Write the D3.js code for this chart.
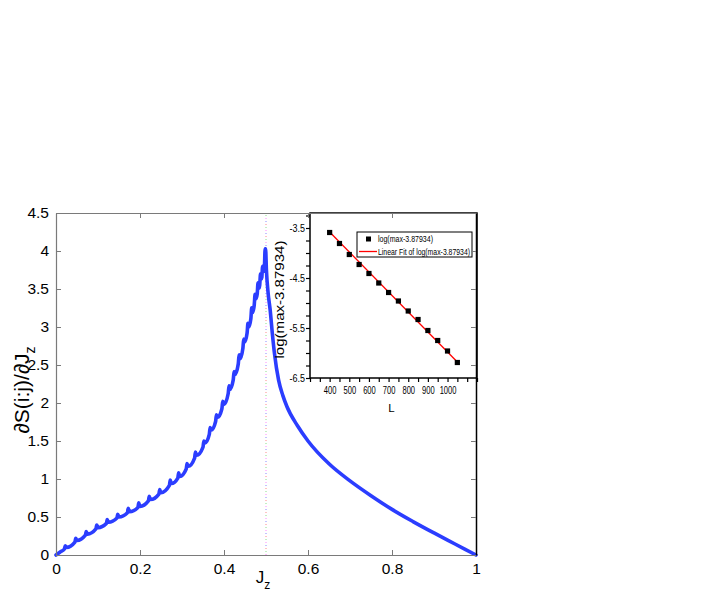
<!DOCTYPE html>
<html>
<head>
<meta charset="utf-8">
<script src="https://cdn.jsdelivr.net/npm/d3@7"></script>
<style>
html,body{margin:0;padding:0;background:#fff;}
svg{display:block;}
</style>
</head>
<body>
<svg id="chart" width="709" height="599"></svg>
<script>
// ---------- DATA ----------
// main curve: dS(i:j)/dJz versus Jz (teeth included)
const mainJ = [0,0.01,
 0.02,0.022,0.025, 0.045,0.047,0.05, 0.07,0.072,0.075, 0.095,0.097,0.1,
 0.12,0.122,0.125, 0.145,0.147,0.15, 0.17,0.172,0.175, 0.195,0.197,0.2,
 0.22,0.222,0.225, 0.245,0.247,0.25, 0.27,0.272,0.275, 0.29,0.292,0.295,
 0.31,0.312,0.315, 0.33,0.332,0.335, 0.35,0.352,0.355, 0.365,0.367,0.37,
 0.38,0.382,0.385, 0.395,0.397,0.4, 0.41,0.412,0.414, 0.422,0.424,0.426,
 0.434,0.436,0.438, 0.445,0.447,0.449, 0.455,0.457,0.459, 0.464,0.466,0.468,
 0.472,0.474,0.476, 0.479,0.481,0.483, 0.485,0.487,0.489, 0.49,0.492,0.494,
 0.496,0.498,0.499,
 0.501,0.505,0.51,0.515,0.52,0.53,0.54,0.55,0.575,0.6,0.65,0.7,0.75,0.8,0.85,0.9,0.95,1.0];
const mainV = [0,0.04,
 0.08,0.12,0.10, 0.17,0.22,0.19, 0.26,0.31,0.275, 0.343,0.393,0.36,
 0.416,0.466,0.43, 0.486,0.536,0.50, 0.556,0.616,0.57, 0.626,0.686,0.64,
 0.712,0.772,0.73, 0.802,0.862,0.82, 0.916,0.986,0.94, 1.012,1.082,1.035,
 1.132,1.202,1.168, 1.276,1.356,1.312, 1.42,1.50,1.475, 1.588,1.678,1.644,
 1.756,1.846,1.812, 1.924,2.024,1.98, 2.125,2.225,2.18, 2.305,2.415,2.375,
 2.515,2.635,2.58, 2.72,2.84,2.80, 2.92,3.05,3.0, 3.112,3.252,3.19,
 3.29,3.43,3.37, 3.43,3.58,3.51, 3.55,3.70,3.63, 3.65,3.80,3.73,
 3.77,4.03,4.03,
 3.75,3.45,3.22,2.92,2.66,2.30,2.10,1.95,1.70,1.50,1.20,0.975,0.78,0.60,0.44,0.29,0.145,0.0];
const xTicks = [0,0.2,0.4,0.6,0.8,1];
const xTickLabels = ["0","0.2","0.4","0.6","0.8","1"];
const yTicks = [0,0.5,1,1.5,2,2.5,3,3.5,4,4.5];
const yTickLabels = ["0","0.5","1","1.5","2","2.5","3","3.5","4","4.5"];
const criticalJ = 0.5;

// inset: log(max-3.87934) versus L
const insetL = [400,450,500,550,600,650,700,750,800,850,900,950,1000,1050];
const insetLog = [-3.59,-3.81,-4.03,-4.23,-4.41,-4.60,-4.79,-4.96,-5.16,-5.33,-5.55,-5.75,-5.96,-6.19];
const fitL = [400,1050];
const fitLog = [-3.58,-6.18];
const insetXTicks = [400,500,600,700,800,900,1000];
const insetXMinor = [300,350,400,450,500,550,600,650,700,750,800,850,900,950,1000,1050,1100,1150];
const insetYTicks = [-3.5,-4.5,-5.5,-6.5];
const insetYTickLabels = ["-3.5","-4.5","-5.5","-6.5"];
const insetYMinor = [-3.25,-3.5,-3.75,-4,-4.25,-4.5,-4.75,-5,-5.25,-5.5,-5.75,-6,-6.25,-6.5];
const legendLabels = ["log(max-3.87934)","Linear Fit of log(max-3.87934)"];

// ---------- LAYOUT ----------
const svg = d3.select("#chart");
const M = {l:56, r:476, t:213, b:555};
const x = d3.scaleLinear().domain([0,1]).range([M.l,M.r]);
const y = d3.scaleLinear().domain([0,4.5]).range([M.b,M.t]);
const frameCol = "#7a7a7a";
const font = "'Liberation Sans', Arial, Helvetica, sans-serif";

// critical dotted line (multicolour dots)
const dotCols = ["#ff88ff","#88e088","#ff8888","#8888ff"];
dotCols.forEach((c,i)=>{
  svg.append("line").attr("x1",x(criticalJ)).attr("x2",x(criticalJ))
    .attr("y1",y(0)).attr("y2",y(4.5))
    .attr("stroke",c).attr("stroke-width",1)
    .attr("stroke-dasharray","1,11").attr("stroke-dashoffset",-i*3);
});

// main curve
const pts = mainJ.map((j,i)=>[j,mainV[i]]);
svg.append("path").datum(pts)
  .attr("d",d3.line().curve(d3.curveMonotoneX).x(d=>x(d[0])).y(d=>y(d[1])))
  .attr("fill","none").attr("stroke","#2b3dff").attr("stroke-width",3.6)
  .attr("stroke-linejoin","round").attr("stroke-linecap","round");

// ---------- INSET ----------
const I = {l:310, r:477, t:213, b:378};
const ix = d3.scaleLinear().domain([300,1150]).range([I.l,I.r]);
const iy = d3.scaleLinear().domain([-6.5,-3.2]).range([I.b,I.t]);
const inset = svg.append("g");
inset.append("rect").attr("x",I.l).attr("y",I.t).attr("width",I.r-I.l).attr("height",I.b-I.t)
  .attr("fill","#fff");

// inset fit line
inset.append("line").attr("x1",ix(fitL[0])).attr("y1",iy(fitLog[0]))
  .attr("x2",ix(fitL[1])).attr("y2",iy(fitLog[1]))
  .attr("stroke","#ff0000").attr("stroke-width",1.3);
// inset points
inset.selectAll("rect.pt").data(insetL).enter().append("rect").attr("class","pt")
  .attr("x",(d)=>ix(d)-2.6).attr("y",(d,i)=>iy(insetLog[i])-2.6)
  .attr("width",5.2).attr("height",5.2).attr("fill","#000");

// inset frame
inset.append("rect").attr("x",I.l).attr("y",I.t).attr("width",I.r-I.l).attr("height",I.b-I.t)
  .attr("fill","none").attr("stroke","#000").attr("stroke-width",1.5);

// inset bottom axis
const ib = inset.append("g").attr("transform",`translate(0,${I.b})`)
  .call(d3.axisBottom(ix).tickValues(insetXMinor).tickSize(4).tickFormat(""));
ib.select(".domain").remove();
ib.selectAll("line").attr("stroke","#000").attr("stroke-width",1.2);
const ibl = inset.append("g").attr("transform",`translate(0,${I.b})`)
  .call(d3.axisBottom(ix).tickValues(insetXTicks).tickSize(0).tickPadding(9).tickFormat(d3.format("d")));
ibl.select(".domain").remove();
ibl.selectAll("text").attr("font-family",font).attr("font-size",10.5).attr("fill","#000")
  .attr("transform","scale(0.72,1)");

// inset left axis
const il = inset.append("g").attr("transform",`translate(${I.l},0)`)
  .call(d3.axisLeft(iy).tickValues(insetYMinor).tickSize(4).tickFormat(""));
il.select(".domain").remove();
il.selectAll("line").attr("stroke","#000").attr("stroke-width",1.2);
const ill = inset.append("g").attr("transform",`translate(${I.l},0)`)
  .call(d3.axisLeft(iy).tickValues(insetYTicks).tickSize(0).tickPadding(6)
    .tickFormat((d,i)=>insetYTickLabels[i]));
ill.select(".domain").remove();
ill.selectAll("text").attr("font-family",font).attr("font-size",11).attr("fill","#000")
  .attr("transform","scale(0.82,1)");

// inset labels
inset.append("text").attr("x",(I.l+I.r)/2 - 2).attr("y",412)
  .attr("text-anchor","middle").attr("font-family",font).attr("font-size",11.5).text("L");
inset.append("text").attr("transform",`translate(284,${(I.t+I.b)/2 + 4}) rotate(-90)`)
  .attr("text-anchor","middle").attr("font-family",font).attr("font-size",13.5)
  .attr("textLength",118).attr("lengthAdjust","spacingAndGlyphs").text("log(max-3.87934)");

// legend
const lg = inset.append("g");
lg.append("rect").attr("x",357).attr("y",232).attr("width",115).attr("height",25)
  .attr("fill","#fff").attr("stroke","#000").attr("stroke-width",1);
lg.append("rect").attr("x",366).attr("y",236.5).attr("width",5).attr("height",5).attr("fill","#000");
lg.append("line").attr("x1",359).attr("x2",377).attr("y1",251.5).attr("y2",251.5)
  .attr("stroke","#ff0000").attr("stroke-width",1.3);
const legW = [55,92];
lg.selectAll("text").data(legendLabels).enter().append("text")
  .attr("x",378).attr("y",(d,i)=>242+i*13)
  .attr("font-family",font).attr("font-size",9).attr("fill","#000")
  .attr("textLength",(d,i)=>legW[i]).attr("lengthAdjust","spacingAndGlyphs").text(d=>d);

// ---------- MAIN AXES ----------
function styleAxis(g){
  g.selectAll(".domain").attr("stroke",frameCol).attr("stroke-width",1.2);
  g.selectAll(".tick line").attr("stroke",frameCol).attr("stroke-width",1);
  g.selectAll("text").attr("font-family",font).attr("font-size",15.5).attr("fill","#000");
}
const gb = svg.append("g").attr("transform",`translate(0,${M.b})`)
  .call(d3.axisBottom(x).tickValues(xTicks).tickSizeInner(-5).tickSizeOuter(0).tickPadding(7)
    .tickFormat((d,i)=>xTickLabels[i]));
styleAxis(gb);
gb.selectAll("text").attr("dy","0.75em");
const gl = svg.append("g").attr("transform",`translate(${M.l},0)`)
  .call(d3.axisLeft(y).tickValues(yTicks).tickSizeInner(-5).tickSizeOuter(0).tickPadding(7)
    .tickFormat((d,i)=>yTickLabels[i]));
styleAxis(gl);
const gt = svg.append("g").attr("transform",`translate(0,${M.t})`)
  .call(d3.axisTop(x).tickValues(xTicks).tickSizeInner(-5).tickSizeOuter(0).tickFormat(""));
styleAxis(gt);
const gr = svg.append("g").attr("transform",`translate(${M.r},0)`)
  .call(d3.axisRight(y).tickValues(yTicks).tickSizeInner(-5).tickSizeOuter(0).tickFormat(""));
styleAxis(gr);
gr.selectAll(".domain").attr("stroke","#000").attr("stroke-width",1.5);

// axis titles
const xl = svg.append("text").attr("x",x(0.5)-3).attr("y",583)
  .attr("text-anchor","middle").attr("font-family",font).attr("font-size",17);
xl.append("tspan").text("J");
xl.append("tspan").attr("dy",6).attr("font-size",12).text("z");

const yl = svg.append("text").attr("transform",`translate(29,${(M.t+M.b)/2+6}) rotate(-90)`)
  .attr("text-anchor","middle").attr("font-family",font).attr("font-size",21);
yl.append("tspan").text("∂S(i:j)/∂J");
yl.append("tspan").attr("dy",6).attr("font-size",14).text("z");
</script>
</body>
</html>
